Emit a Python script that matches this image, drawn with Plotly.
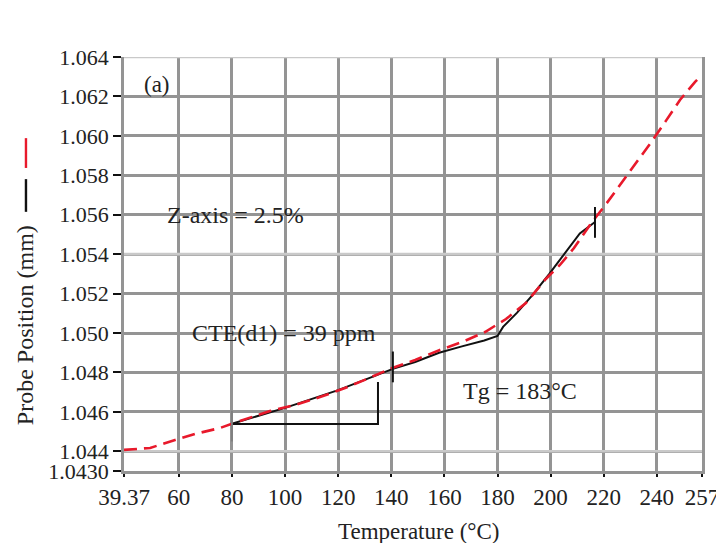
import plotly.graph_objects as go

# ---- data ----
RED_T = [39.37, 49.2, 58.6, 66.1, 75.5, 83.0, 94.3, 103.8, 113.2, 122.6, 130.9, 139.5,
         149.0, 158.3, 166.6, 175.3, 183.2, 190.7, 198.2, 203.5, 208.8, 215.6, 221.2,
         226.9, 232.9, 238.2, 243.4, 248.7, 254.4, 257.0]
RED_V = [1.04407, 1.04417, 1.04457, 1.04488, 1.04518, 1.04554, 1.04604, 1.04635, 1.04675,
         1.04721, 1.04767, 1.04818, 1.04863, 1.04914, 1.04954, 1.05005, 1.05071, 1.05152,
         1.05274, 1.05345, 1.05431, 1.05563, 1.05660, 1.05766, 1.05873, 1.05974, 1.06076,
         1.06182, 1.06274, 1.06309]

BLACK_T = [80, 100, 120, 140.6, 149, 158, 166.6, 175, 180, 182.1, 187.3, 193, 199.5, 205,
           211, 216.7]
BLACK_V = [1.0454, 1.0462, 1.0471, 1.04818, 1.04853, 1.04900, 1.04932, 1.04962, 1.04985,
           1.05031, 1.05102, 1.05190, 1.05300, 1.05400, 1.05505, 1.05563]

BRACKET_T = [80, 135, 135]
BRACKET_V = [1.04538, 1.04538, 1.04752]

MARK_T = [80, 140.6, 216.7]
MARK_V = [1.04528, 1.04828, 1.05561]

X_TICKS = [39.37, 60, 80, 100, 120, 140, 160, 180, 200, 220, 240, 257]
X_LABELS = ["39.37", "60", "80", "100", "120", "140", "160", "180", "200", "220", "240", "257"]
Y_TICKS = [1.043, 1.044, 1.046, 1.048, 1.050, 1.052, 1.054, 1.056, 1.058, 1.060, 1.062, 1.064]
Y_LABELS = ["1.0430", "1.044", "1.046", "1.048", "1.050", "1.052", "1.054", "1.056",
            "1.058", "1.060", "1.062", "1.064"]
LIGHT_GRID = [1.044, 1.054, 1.064]

FONT = "Liberation Serif"
GRID = "#949494"
LIGHT = "#c9c9c9"
TXT = "#222222"

fig = go.Figure()

fig.add_trace(go.Scatter(x=BLACK_T, y=BLACK_V, mode="lines",
                         line=dict(color="#111111", width=2), hoverinfo="skip"))
fig.add_trace(go.Scatter(x=RED_T, y=RED_V, mode="lines",
                         line=dict(color="#e8192b", width=2.6, dash="13px,7px"),
                         hoverinfo="skip"))
fig.add_trace(go.Scatter(x=BRACKET_T, y=BRACKET_V, mode="lines",
                         line=dict(color="#111111", width=2), hoverinfo="skip"))
fig.add_trace(go.Scatter(x=MARK_T, y=MARK_V, mode="markers",
                         marker=dict(symbol="line-ns-open", size=22,
                                     color=["#808080", "#111111", "#111111"],
                                     line=dict(width=2)),
                         hoverinfo="skip"))

shapes = []
for v in LIGHT_GRID:
    shapes.append(dict(type="line", xref="x", yref="y", x0=X_TICKS[0], x1=X_TICKS[-1],
                       y0=v, y1=v, line=dict(color=LIGHT, width=2.6), layer="between"))
# legend-like samples next to the y title
shapes.append(dict(type="line", xref="paper", yref="paper", x0=-0.1696, x1=-0.1696,
                   y0=0.732, y1=0.804, line=dict(color="#e8192b", width=2.4)))
shapes.append(dict(type="line", xref="paper", yref="paper", x0=-0.1696, x1=-0.1696,
                   y0=0.626, y1=0.705, line=dict(color="#111111", width=2.4)))

annotations = [
    dict(x=51.8, y=1.06263, xref="x", yref="y", text="(a)", showarrow=False,
         font=dict(size=23, family=FONT, color=TXT)),
    dict(x=81.5, y=1.05599, xref="x", yref="y", text="Z-axis = 2.5%", showarrow=False,
         font=dict(size=24, family=FONT, color=TXT)),
    dict(x=99.6, y=1.0500, xref="x", yref="y", text="CTE(d1) = 39 ppm", showarrow=False,
         font=dict(size=24, family=FONT, color=TXT)),
    dict(x=188.5, y=1.04706, xref="x", yref="y", text="Tg = 183°C", showarrow=False,
         font=dict(size=24, family=FONT, color=TXT)),
    dict(x=0.510, y=-0.145, xref="paper", yref="paper", text="Temperature (°C)",
         showarrow=False, xanchor="center", yanchor="middle",
         font=dict(size=23, family=FONT, color=TXT)),
    dict(x=-0.171, y=0.3527, xref="paper", yref="paper", text="Probe Position (mm)",
         showarrow=False, textangle=-90, xanchor="center", yanchor="middle",
         font=dict(size=24, family=FONT, color=TXT)),
]

fig.update_layout(
    width=724, height=543,
    margin=dict(l=116, r=30, t=49, b=80),
    paper_bgcolor="white", plot_bgcolor="white",
    showlegend=False,
    shapes=shapes, annotations=annotations,
    font=dict(family=FONT, size=23, color=TXT),
    xaxis=dict(range=[X_TICKS[0], X_TICKS[-1]], tickmode="array", tickvals=X_TICKS,
               ticktext=X_LABELS, showgrid=True, gridcolor=GRID, gridwidth=2.6,
               showline=True, linecolor=GRID, linewidth=2.6, mirror=False,
               ticks="outside", ticklen=3, tickwidth=2, tickcolor="#111",
               ticklabelstandoff=1, zeroline=False,
               tickfont=dict(family=FONT, size=23, color=TXT)),
    yaxis=dict(range=[Y_TICKS[0], Y_TICKS[-1]], tickmode="array", tickvals=Y_TICKS,
               ticktext=Y_LABELS, showgrid=True, gridcolor=GRID, gridwidth=2.6,
               showline=True, linecolor=GRID, linewidth=2.6, mirror=True,
               ticks="outside", ticklen=8, tickwidth=2, tickcolor="#111",
               zeroline=False,
               tickfont=dict(family=FONT, size=22, color=TXT)),
)

fig.write_html("out.html")
